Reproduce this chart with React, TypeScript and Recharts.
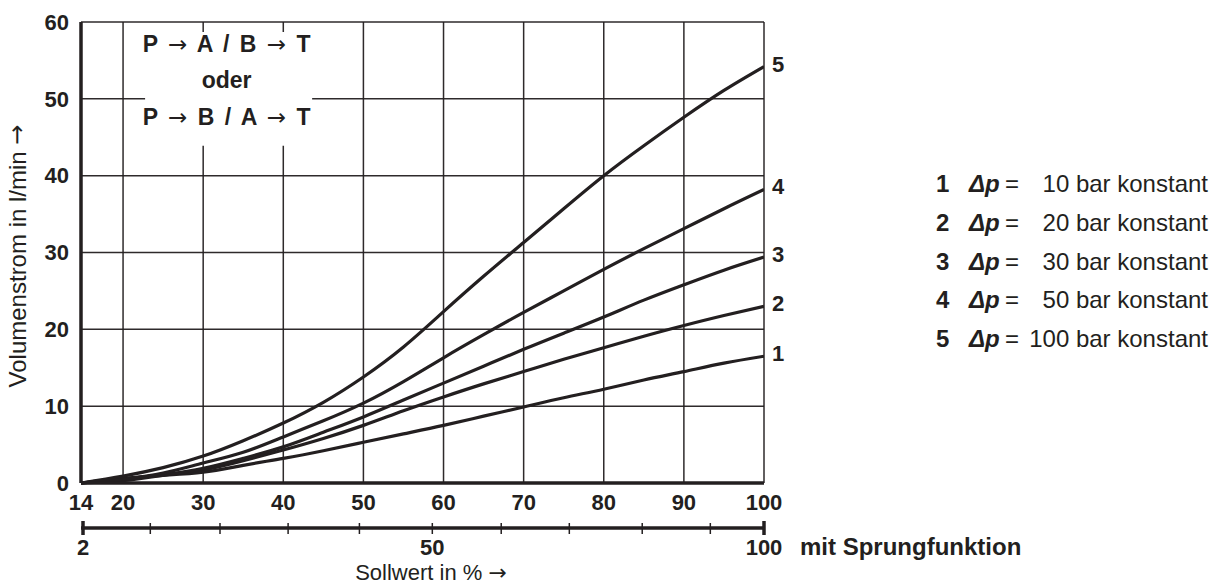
import React from 'react';
import { LineChart, Line, XAxis, YAxis, CartesianGrid, ReferenceArea, Customized } from 'recharts';

// Sollwert in % (left edge of the axis carries the label "14")
const X_START = 14.75;
const SETPOINT = [X_START, 20, 25, 30, 35, 40, 45, 50, 55, 60, 65, 70, 75, 80, 85, 90, 95, 100];

// Volumenstrom in l/min for each curve
const FLOW_1 = [0, 0.6, 1.0, 1.4, 2.3, 3.2, 4.2, 5.3, 6.4, 7.5, 8.7, 9.9, 11.1, 12.2, 13.4, 14.5, 15.6, 16.5];
const FLOW_2 = [0, 0.5, 1.1, 1.7, 2.9, 4.3, 5.8, 7.5, 9.4, 11.2, 12.9, 14.5, 16.1, 17.6, 19.1, 20.5, 21.8, 23.0];
const FLOW_3 = [0, 0.3, 1.0, 1.9, 3.2, 4.7, 6.6, 8.6, 10.8, 13.0, 15.2, 17.4, 19.5, 21.6, 23.8, 25.8, 27.7, 29.4];
const FLOW_4 = [0, 0.5, 1.3, 2.6, 4.0, 6.0, 8.1, 10.4, 13.2, 16.3, 19.3, 22.2, 25.0, 27.8, 30.5, 33.1, 35.7, 38.2];
const FLOW_5 = [0, 0.9, 2.0, 3.5, 5.5, 7.8, 10.5, 13.8, 17.7, 22.3, 26.9, 31.3, 35.7, 40.0, 43.9, 47.6, 51.1, 54.2];

const CURVE_IDS = ['1', '2', '3', '4', '5'];
const DP_BAR = ['10', '20', '30', '50', '100'];

const X_TICKS = [X_START, 20, 30, 40, 50, 60, 70, 80, 90, 100];
const X_TICK_LABELS = ['14', '20', '30', '40', '50', '60', '70', '80', '90', '100'];
const Y_TICKS = [0, 10, 20, 30, 40, 50, 60];

// "mit Sprungfunktion" scale, positions expressed on the main Sollwert scale
const STEP_TICK_POS = [15.0, 23.4, 32.1, 40.6, 49.5, 58.6, 67.2, 75.7, 84.8, 93.3, 100];
const STEP_TICK_LABELS = ['2', '', '', '', '', '50', '', '', '', '', '100'];

const SERIES = [FLOW_1, FLOW_2, FLOW_3, FLOW_4, FLOW_5];
const DATA = SETPOINT.map((x, i) => {
  const row: Record<string, number> = { x };
  SERIES.forEach((s, k) => {
    row['f' + CURVE_IDS[k]] = s[i];
  });
  return row;
});

const INK = '#231f20';
const BOLDNUM = "'Liberation Sans', Arial, Helvetica, sans-serif";
const SANS = "'Liberation Sans', Arial, Helvetica, sans-serif";
const ARROW_FONT = "'DejaVu Sans', sans-serif";

const Arrow = () => <tspan fontFamily={ARROW_FONT} fontWeight="normal">→</tspan>;

const StepTick = (props: any) => {
  const { x, y, payload } = props;
  const idx = STEP_TICK_POS.indexOf(payload.value);
  const label = idx >= 0 ? STEP_TICK_LABELS[idx] : '';
  const isEnd = idx === 0 || idx === STEP_TICK_POS.length - 1;
  return (
    <g>
      <line
        x1={x}
        x2={x}
        y1={y - (isEnd ? 7 : 5)}
        y2={y + (isEnd ? 7 : 6)}
        stroke={INK}
        strokeWidth={isEnd ? 3.5 : 1.5}
      />
      {label ? (
        <text x={x} y={y + 27} textAnchor="middle" fontFamily={BOLDNUM} fontWeight="bold" fontSize={22} fill={INK}>
          {label}
        </text>
      ) : null}
    </g>
  );
};

const endLabel = (id: string) => (props: any) => {
  const { x, y, index } = props;
  if (index !== SETPOINT.length - 1) return <g />;
  return (
    <text x={x + 14} y={y + 5} textAnchor="middle" fontFamily={BOLDNUM} fontWeight="bold" fontSize={22} fill={INK}>
      {id}
    </text>
  );
};

const BoxLabel = (props: any) => {
  const vb = props.viewBox || { x: 145, y: 32, width: 167, height: 114 };
  const cx = vb.x + vb.width / 2 - 2;
  const top = vb.y;
  return (
    <g fontFamily={SANS} fontWeight="bold" fontSize={23} textAnchor="middle" fill={INK} wordSpacing={4}>
      <text x={cx} y={top + 20}>
        P <Arrow /> A / B <Arrow /> T
      </text>
      <text x={cx} y={top + 56}>oder</text>
      <text x={cx} y={top + 93}>
        P <Arrow /> B / A <Arrow /> T
      </text>
    </g>
  );
};

const Annotations = () => (
  <g fill={INK}>
    {/* axis titles */}
    <text
      x={17}
      y={256}
      transform="rotate(-90, 17, 256)"
      textAnchor="middle"
      dominantBaseline="central"
      fontFamily={SANS}
      fontSize={24}
    >
      Volumenstrom in l/min <Arrow />
    </text>
    <text x={431} y={580} textAnchor="middle" fontFamily={SANS} fontSize={22}>
      Sollwert in % <Arrow />
    </text>
    <text x={800} y={555} fontFamily={SANS} fontWeight="bold" fontSize={24}>
      mit Sprungfunktion
    </text>
    {/* legend */}
    {CURVE_IDS.map((id, i) => {
      const by = 192 + i * 38.8;
      return (
        <g key={id} fontSize={24}>
          <text x={936} y={by} fontFamily={SANS} fontWeight="bold">
            {id}
          </text>
          <text x={969} y={by} fontFamily={SANS} fontWeight="bold" fontStyle="italic">
            Δp
          </text>
          <text x={1005} y={by} fontFamily={SANS}>
            =
          </text>
          <text x={1208} y={by} textAnchor="end" fontFamily={SANS}>
            {DP_BAR[i]} bar konstant
          </text>
        </g>
      );
    })}
  </g>
);

export default function App() {
  return (
    <div style={{ position: 'absolute', left: 0, top: 0, width: 1211, height: 588, background: '#fff' }}>
      <LineChart
        width={1211}
        height={588}
        data={DATA}
        margin={{ top: 22, right: 447, bottom: 0, left: 0 }}
      >
        <CartesianGrid xAxisId="main" stroke={INK} strokeWidth={1.5} strokeOpacity={0.95} />
        <XAxis
          xAxisId="main"
          dataKey="x"
          type="number"
          domain={[X_START, 100]}
          ticks={X_TICKS}
          interval={0}
          tickFormatter={(v: number) => X_TICK_LABELS[X_TICKS.indexOf(v)] ?? String(v)}
          height={45}
          tickSize={0}
          tickMargin={11}
          axisLine={{ stroke: INK, strokeWidth: 3.5 }}
          tickLine={false}
          tick={{ fill: INK, fontFamily: BOLDNUM, fontWeight: 'bold', fontSize: 22 }}
          allowDataOverflow
        />
        <XAxis
          xAxisId="step"
          dataKey="x"
          type="number"
          domain={[X_START, 100]}
          ticks={STEP_TICK_POS}
          interval={0}
          height={60}
          tickSize={0}
          tickMargin={0}
          axisLine={{ stroke: INK, strokeWidth: 3.5 }}
          tickLine={false}
          tick={<StepTick />}
          allowDataOverflow
        />
        <YAxis
          type="number"
          domain={[0, 60]}
          ticks={Y_TICKS}
          interval={0}
          width={81}
          tickSize={0}
          tickMargin={12}
          axisLine={{ stroke: INK, strokeWidth: 3.5 }}
          tickLine={false}
          tick={{ fill: INK, fontFamily: BOLDNUM, fontWeight: 'bold', fontSize: 22 }}
        />
        <ReferenceArea
          xAxisId="main"
          x1={22.75}
          x2={43.6}
          y1={43.9}
          y2={58.7}
          fill="#ffffff"
          fillOpacity={1}
          stroke="none"
          label={(p: any) => <BoxLabel {...p} />}
        />
        {CURVE_IDS.map((id) => (
          <Line
            key={id}
            xAxisId="main"
            dataKey={'f' + id}
            type="natural"
            stroke={INK}
            strokeWidth={3.2}
            dot={false}
            activeDot={false}
            isAnimationActive={false}
            label={endLabel(id)}
          />
        ))}
        <Customized component={Annotations} />
      </LineChart>
    </div>
  );
}
